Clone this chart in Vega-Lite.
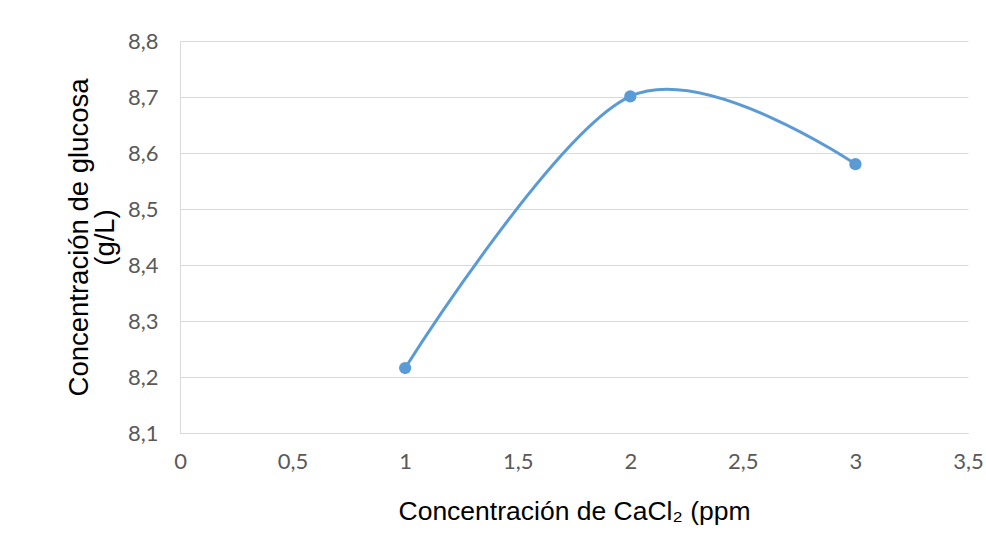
{
  "$schema": "https://vega.github.io/schema/vega-lite/v6.json",
  "width": 788,
  "height": 392,
  "autosize": {"type": "none"},
  "padding": {"left": 180, "top": 41, "right": 18, "bottom": 109},
  "background": "white",
  "config": {
    "view": {"stroke": null},
    "locale": {"number": {"decimal": ",", "thousands": ".", "grouping": [3], "currency": ["", " €"]}},
    "axis": {"labelFont": "Lato", "labelFontSize": 22, "labelColor": "#595959", "titleFont": "Liberation Sans", "titleFontSize": 26.5, "titleFontWeight": "normal", "titleColor": "#000000", "domainColor": "#d9d9d9", "gridColor": "#d9d9d9", "ticks": false}
  },
  "data": {"values": [
    {"x": 1, "y": 8.216},
    {"x": 2, "y": 8.701},
    {"x": 3, "y": 8.580}
  ]},
  "encoding": {
    "x": {"field": "x", "type": "quantitative", "scale": {"domain": [0, 3.5], "nice": false},
      "axis": {"values": [0, 0.5, 1, 1.5, 2, 2.5, 3, 3.5], "format": ".1~f", "grid": false, "labelFlush": false, "labelPadding": 18, "title": "Concentración de CaCl₂ (ppm", "titlePadding": 26}},
    "y": {"field": "y", "type": "quantitative", "scale": {"domain": [8.1, 8.8], "nice": false, "zero": false},
      "axis": {"values": [8.1, 8.2, 8.3, 8.4, 8.5, 8.6, 8.7, 8.8], "format": ".1f", "labelFlush": false, "labelPadding": 22, "title": ["Concentración de glucosa", "(g/L)"], "titleFontSize": 27.5, "titlePadding": 8, "titleLineHeight": 26}}
  },
  "layer": [
    {"mark": {"type": "line", "interpolate": "cardinal", "tension": 0, "color": "#5b9bd5", "strokeWidth": 3}},
    {"mark": {"type": "point", "filled": true, "size": 150, "color": "#5b9bd5", "opacity": 1}}
  ]
}
